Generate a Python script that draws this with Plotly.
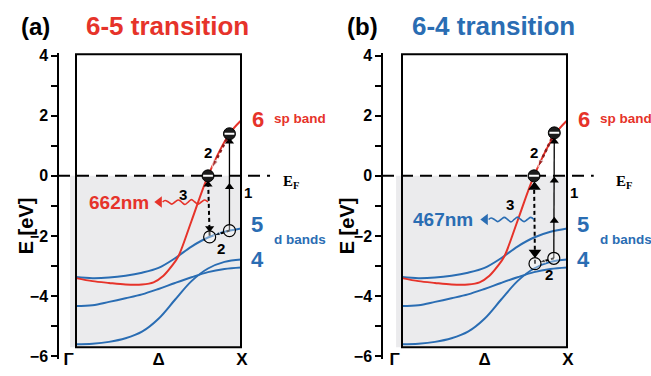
import plotly.graph_objects as go

W, H = 651, 376

# ---------------- band structure (k: Γ=0 ... X=1, energies in eV) ----------------
k_sp = [0.0, 0.1, 0.2, 0.3, 0.4, 0.47, 0.53, 0.58, 0.62, 0.70, 0.80, 0.93, 1.0]
e_sp = [-3.40, -3.50, -3.56, -3.61, -3.61, -3.54, -3.32, -3.00, -2.68, -1.50, 0.0, 1.40, 1.84]

k_d = [0.0, 0.1, 0.2, 0.3, 0.4, 0.5, 0.6, 0.7, 0.8, 0.9, 1.0]
e_d5 = [-3.36, -3.40, -3.38, -3.32, -3.22, -3.06, -2.74, -2.35, -2.05, -1.86, -1.75]
e_d_mid = [-4.33, -4.30, -4.19, -4.07, -3.94, -3.76, -3.56, -3.37, -3.20, -3.10, -3.05]
e_d_low = [-5.60, -5.58, -5.52, -5.40, -5.18, -4.75, -4.12, -3.50, -3.08, -2.86, -2.78]

# ---------------- tick labels ----------------
e_tick0, e_dtick, e_minor = 0, 2, 1
k_tick_pos = [-0.045, 0.50, 1.005]
k_tick_text = ['Γ', 'Δ', 'X']

# ---------------- per-panel content ----------------
panel_letters = ['(a)', '(b)']
panel_titles = ['6-5 transition', '6-4 transition']
wavelengths = ['662nm', '467nm']

elec_k = [[0.93, 0.80], [0.923, 0.80]]     # excited electron, electron at E_F
elec_e = [[1.40, 0.0], [1.43, 0.0]]
hole_k = [[0.93, 0.81], [0.92, 0.806]]     # initial hole, relaxed hole
hole_e = [[-1.82, -2.03], [-2.74, -2.92]]

arrow1_heads = [[-0.37, 1.14], [-1.49, -0.15, 1.14]]
arrow3_up = [-0.29, -0.37]
arrow3_down = [-1.74, -2.55]
arrow3_size = [8, 11]

wave_k = [0.80, 0.78, 0.76, 0.74, 0.72, 0.70, 0.68, 0.66, 0.64, 0.62, 0.60, 0.58, 0.56, 0.54, 0.525]
wave_de = [0.0, 0.07, 0.0, -0.07, 0.0, 0.08, 0.0, -0.08, 0.0, 0.07, 0.0, -0.07, 0.0, 0.05, 0.0]
wave_center = [-0.87, -1.45]
wave_head_k = 0.505
wl_pos = [(0.26, -0.90), (0.25, -1.45)]
label3_pos = [(0.65, -0.61), (0.655, -0.96)]
label2_low_pos = [(0.88, -2.41), (0.89, -3.27)]
ef_label_x = [1.245, 1.285]

RED = '#e6332a'
BLUE = '#2a6db3'
DARKRED = '#8c1c1c'
GRAY = '#ebebed'
FONT = 'Liberation Sans'

# ---------------- geometry (pixels) ----------------
box_left_px = [76, 402]
box_w_px = 165
dom_px = [(55, 330), (381, 645)]
yaxis_px = [58, 382]
y_top_px, y_bot_px = 49, 365
e_range = [-6.1, 4.1]
box_top, box_bot = 4.04, -5.70
gray_left = -0.036
ef_line_end = [1.176, 1.162]

fig = go.Figure()

layout_axes = {}
shapes = []
annotations = []

for p in range(2):
    xn = 'x' if p == 0 else 'x2'
    yn = 'y' if p == 0 else 'y2'
    xa_key = 'xaxis' if p == 0 else 'xaxis2'
    ya_key = 'yaxis' if p == 0 else 'yaxis2'
    d0, d1 = dom_px[p]
    bl = box_left_px[p]
    xr = [(d0 - bl) / box_w_px, (d1 - bl) / box_w_px]

    layout_axes[xa_key] = dict(
        domain=[d0 / W, d1 / W], range=xr, anchor='free', position=1 - 352 / H,
        showline=False, showgrid=False, zeroline=False, ticks='',
        tickmode='array', tickvals=k_tick_pos, ticktext=k_tick_text,
        tickfont=dict(family=FONT, size=17, color='black', weight='bold'),
    )
    layout_axes[ya_key] = dict(
        domain=[1 - y_bot_px / H, 1 - y_top_px / H], range=e_range,
        anchor='free', position=yaxis_px[p] / W, side='left',
        showline=True, linecolor='black', linewidth=1.5,
        showgrid=False, zeroline=False,
        ticks='outside', ticklen=6, tickwidth=1.5, tickcolor='black',
        tick0=e_tick0, dtick=e_dtick,
        minor=dict(dtick=e_minor, ticks='outside', ticklen=6, tickwidth=1.5, tickcolor='black', showgrid=False),
        tickfont=dict(family=FONT, size=16, color='black', weight='bold'),
    )

    # shaded occupied region, Fermi level, box
    shapes.append(dict(type='rect', xref=xn, yref=yn, x0=gray_left, x1=1.0, y0=box_bot, y1=0,
                       fillcolor=GRAY, line=dict(width=0), layer='below'))
    shapes.append(dict(type='line', xref=xn, yref=yn,
                       x0=(yaxis_px[p] - bl) / box_w_px, x1=ef_line_end[p], y0=0, y1=0,
                       line=dict(color='black', width=2, dash='12px,7px'), layer='below'))
    shapes.append(dict(type='rect', xref=xn, yref=yn, x0=0, x1=1, y0=box_bot, y1=box_top,
                       line=dict(color='black', width=2), fillcolor='rgba(0,0,0,0)', layer='above'))

    # bands
    for e_vals in (e_d_low, e_d_mid, e_d5):
        fig.add_trace(go.Scatter(x=k_d, y=e_vals, mode='lines', xaxis=xn, yaxis=yn,
                                 line=dict(color=BLUE, width=2, shape='spline', smoothing=1.0),
                                 hoverinfo='skip'))
    fig.add_trace(go.Scatter(x=k_sp, y=e_sp, mode='lines', xaxis=xn, yaxis=yn,
                             line=dict(color=RED, width=2, shape='spline', smoothing=0.9),
                             hoverinfo='skip'))

    ek, ee = elec_k[p], elec_e[p]
    hk, he = hole_k[p], hole_e[p]

    # arrow 1: optical excitation (solid)
    fig.add_trace(go.Scatter(x=[hk[0], ek[0]], y=[he[0], ee[0]], mode='lines', xaxis=xn, yaxis=yn,
                             line=dict(color='black', width=1.3), hoverinfo='skip'))
    fig.add_trace(go.Scatter(x=[ek[0]] * len(arrow1_heads[p]), y=arrow1_heads[p], mode='markers',
                             xaxis=xn, yaxis=yn, hoverinfo='skip',
                             marker=dict(symbol='triangle-up', size=8, color='black')))

    # arrow 3: radiative recombination (dashed, double headed)
    fig.add_trace(go.Scatter(x=[ek[1], hk[1]], y=[ee[1], he[1]], mode='lines', xaxis=xn, yaxis=yn,
                             line=dict(color='black', width=2, dash='4px,3px'), hoverinfo='skip'))
    fig.add_trace(go.Scatter(x=[ek[1] + 0.003 * p, hk[1]], y=[arrow3_up[p], arrow3_down[p]], mode='markers',
                             xaxis=xn, yaxis=yn, hoverinfo='skip',
                             marker=dict(symbol=['triangle-up', 'triangle-down'], size=arrow3_size[p],
                                         color='black')))

    # arrow 2 (upper): electron relaxation, dotted dark red
    f = 0.2
    hx = ek[1] + f * (ek[0] - ek[1])
    hy = ee[1] + f * (ee[0] - ee[1])
    fig.add_trace(go.Scatter(x=[ek[0], hx], y=[ee[0], hy], mode='lines+markers', xaxis=xn, yaxis=yn,
                             line=dict(color=DARKRED, width=2.5, dash='dot'), hoverinfo='skip',
                             marker=dict(symbol='arrow', size=[0, 8], color=DARKRED, angleref='previous')))
    # arrow 2 (lower): hole relaxation, dotted black
    hx2 = hk[1] + f * (hk[0] - hk[1])
    hy2 = he[1] + f * (he[0] - he[1])
    fig.add_trace(go.Scatter(x=[hk[0], hx2], y=[he[0], hy2], mode='lines+markers', xaxis=xn, yaxis=yn,
                             line=dict(color='black', width=2, dash='dot'), hoverinfo='skip',
                             marker=dict(symbol='arrow', size=[0, 7], color='black', angleref='previous')))

    # photon (wavy arrow)
    wcol = RED if p == 0 else BLUE
    fig.add_trace(go.Scatter(x=wave_k, y=[wave_center[p] + d for d in wave_de], mode='lines',
                             xaxis=xn, yaxis=yn, hoverinfo='skip',
                             line=dict(color=wcol, width=1.6, shape='spline')))
    fig.add_trace(go.Scatter(x=[wave_head_k], y=[wave_center[p]], mode='markers', xaxis=xn, yaxis=yn,
                             hoverinfo='skip',
                             marker=dict(symbol='triangle-left', size=10, color=wcol)))

    # holes
    fig.add_trace(go.Scatter(x=hk, y=he, mode='markers', xaxis=xn, yaxis=yn, hoverinfo='skip',
                             marker=dict(symbol='circle', size=12, color='rgba(255,255,255,0.35)',
                                         line=dict(color='black', width=1.2))))
    # electrons
    fig.add_trace(go.Scatter(x=ek, y=ee, mode='markers', xaxis=xn, yaxis=yn, hoverinfo='skip',
                             marker=dict(symbol='circle', size=12, color='#1c1c1c',
                                         line=dict(color='black', width=1))))
    fig.add_trace(go.Scatter(x=ek, y=ee, mode='markers', xaxis=xn, yaxis=yn, hoverinfo='skip',
                             marker=dict(symbol='line-ew', size=7,
                                         line=dict(color='white', width=2))))

    # ---------- text ----------
    def ann(x, y, text, size, color='black', xanchor='center', family=FONT):
        annotations.append(dict(x=x, y=y, xref=xn, yref=yn, text=text, showarrow=False,
                                xanchor=xanchor, yanchor='middle',
                                font=dict(family=family, size=size, color=color, weight='bold')))

    ann(1.10, 1.86, '6', 22, RED)
    ann(1.19, 1.90, 'sp band', 13.5, RED, 'left')
    ann(1.098, -1.62, '5', 22, BLUE)
    ann(1.19, -2.12, 'd bands', 13.5, BLUE, 'left')
    ann(1.098, -2.77, '4', 22, BLUE)
    ann(ef_label_x[p], -0.20, 'E<sub>F</sub>', 15, 'black', 'left', 'Liberation Serif')
    ann(1.044, -0.55, '1', 15)
    ann(0.80, 0.78, '2', 15)
    ann(label2_low_pos[p][0], label2_low_pos[p][1], '2', 15)
    ann(label3_pos[p][0], label3_pos[p][1], '3', 15)
    ann(wl_pos[p][0], wl_pos[p][1], wavelengths[p], 19, wcol)

# paper-level text
letter_px = [(35, 22), (362, 22)]
title_px = [(167, 22), (493, 22)]
ylabel_px = [(26, 228), (347, 228)]
for p in range(2):
    annotations.append(dict(x=letter_px[p][0] / W, y=1 - letter_px[p][1] / H, xref='paper', yref='paper',
                            text=panel_letters[p], showarrow=False, xanchor='center', yanchor='middle',
                            font=dict(family=FONT, size=24, color='black', weight='bold')))
    annotations.append(dict(x=title_px[p][0] / W, y=1 - title_px[p][1] / H, xref='paper', yref='paper',
                            text=panel_titles[p], showarrow=False, xanchor='center', yanchor='middle',
                            font=dict(family=FONT, size=26, color=RED if p == 0 else BLUE, weight='bold')))
    annotations.append(dict(x=ylabel_px[p][0] / W, y=1 - ylabel_px[p][1] / H, xref='paper', yref='paper',
                            text='E [eV]', showarrow=False, textangle=-90, xanchor='center', yanchor='middle',
                            font=dict(family=FONT, size=20, color='black', weight='bold')))

fig.update_layout(
    width=W, height=H, margin=dict(l=0, r=0, t=0, b=0),
    paper_bgcolor='white', plot_bgcolor='white', showlegend=False,
    shapes=shapes, annotations=annotations, **layout_axes,
)

fig.write_html('out.html', config={'displayModeBar': False},
               post_script="document.body.style.margin='0';document.body.style.overflow='hidden';")
